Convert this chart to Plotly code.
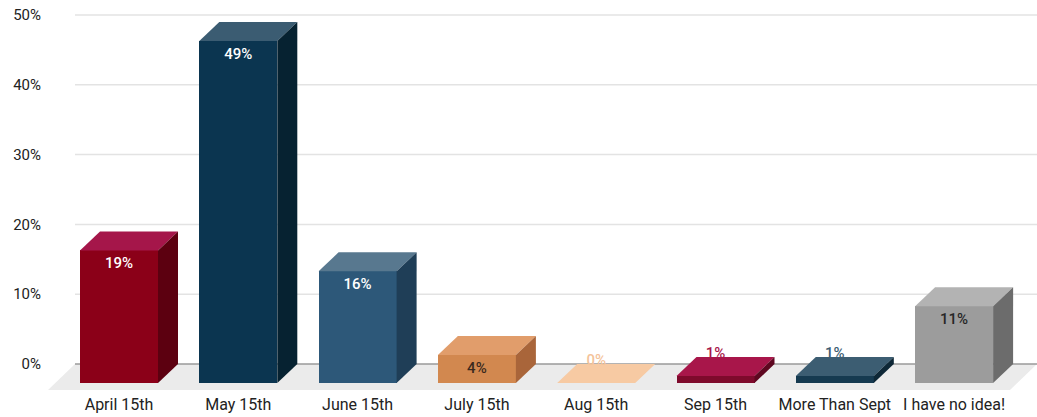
import plotly.graph_objects as go

# Survey answers and the share of respondents picking each one
categories = ["April 15th", "May 15th", "June 15th", "July 15th",
              "Aug 15th", "Sep 15th", "More Than Sept", "I have no idea!"]
values = [19, 49, 16, 4, 0, 1, 1, 11]
value_labels = ["19%", "49%", "16%", "4%", "0%", "1%", "1%", "11%"]
y_ticks = [0, 10, 20, 30, 40, 50]
y_tick_labels = ["0%", "10%", "20%", "30%", "40%", "50%"]

# Face colours for each box: front, top, side
front_colors = ["#8b0018", "#0b3550", "#2d5879", "#d2884f",
                "#f4c39a", "#7e0a2c", "#163a50", "#9c9c9c"]
top_colors = ["#a5164a", "#3b5c72", "#58788f", "#e19d6b",
              "#f7caa3", "#a8164a", "#3c5d72", "#b3b3b3"]
side_colors = ["#5c0010", "#062231", "#1f3e57", "#a9653a",
               "#e0ad80", "#5e0720", "#0e2837", "#6c6c6c"]
label_colors = ["#ffffff", "#ffffff", "#ffffff", "#3b2a1e",
                "#f4c39a", "#a8164a", "#3c5d72", "#262626"]

# Page / plot geometry
W, H = 1037, 417
ML, MR, MT, MB = 48, 0, 5, 27
PX_PER_CAT = 119.3
PX_PER_PCT = 6.98
ZERO_PX = 364           # pixel row of the back-plane 0% line
FIRST_CAT_PX = 119      # pixel column of the first category centre

plot_w = W - ML - MR
plot_h = H - MT - MB
x0 = -(FIRST_CAT_PX - ML) / PX_PER_CAT
x1 = x0 + plot_w / PX_PER_CAT
y1 = (ZERO_PX - MT) / PX_PER_PCT
y0 = y1 - plot_h / PX_PER_PCT

# Depth of the pseudo-3D extrusion, converted to data units
DX = 20 / PX_PER_CAT
DY = 19 / PX_PER_PCT
BAR_W = 78 / PX_PER_CAT
HALF = BAR_W / 2
FLOOR_DX = 27 / PX_PER_CAT
FLOOR_DY = 26 / PX_PER_PCT

idx = list(range(len(categories)))
fig = go.Figure()

# Front faces
fig.add_trace(go.Bar(
    x=idx, y=values, base=[-DY] * len(values), width=BAR_W,
    marker=dict(color=front_colors, line=dict(width=0)),
    hoverinfo="skip", showlegend=False,
))

# Top and side faces
for i, v in enumerate(values):
    xl, xr = i - HALF, i + HALF
    fig.add_trace(go.Scatter(
        x=[xl, xr, xr + DX, xl + DX, xl],
        y=[v - DY, v - DY, v, v, v - DY],
        fill="toself", fillcolor=top_colors[i], mode="lines",
        line=dict(width=0, color=top_colors[i]),
        hoverinfo="skip", showlegend=False,
    ))
    if v > 0:
        fig.add_trace(go.Scatter(
            x=[xr, xr + DX, xr + DX, xr, xr],
            y=[-DY, 0, v, v - DY, -DY],
            fill="toself", fillcolor=side_colors[i], mode="lines",
            line=dict(width=0, color=side_colors[i]),
            hoverinfo="skip", showlegend=False,
        ))

# Value labels: inside the front face when it is tall enough, above otherwise
label_y = []
for v in values:
    if v * PX_PER_PCT >= 20:
        label_y.append(v - DY - 14 / PX_PER_PCT)
    else:
        label_y.append(v + 0.4)
fig.add_trace(go.Scatter(
    x=idx, y=label_y, text=value_labels, mode="text",
    textposition="middle center",
    textfont=dict(family="Roboto", size=15, color=label_colors, weight=500),
    hoverinfo="skip", showlegend=False,
))

# Floor slab and back-plane gridlines
shapes = [dict(
    type="path", xref="x", yref="y", layer="below",
    path=(f"M {x0},{-FLOOR_DY} L {x1 - FLOOR_DX},{-FLOOR_DY} "
          f"L {x1},0 L {x0 + FLOOR_DX},0 Z"),
    fillcolor="#ebebeb", line=dict(width=0),
)]
for t in y_ticks:
    shapes.append(dict(
        type="line", xref="x", yref="y", layer="below",
        x0=x0 + FLOOR_DX, x1=x1, y0=t, y1=t,
        line=dict(color="#9a9a9a" if t == 0 else "#e3e3e3", width=1.5),
    ))

fig.update_layout(
    width=W, height=H,
    margin=dict(l=ML, r=MR, t=MT, b=MB),
    paper_bgcolor="white", plot_bgcolor="white",
    font=dict(family="Roboto", size=15, color="#222222"),
    shapes=shapes,
    bargap=0,
    xaxis=dict(
        range=[x0, x1], tickvals=idx, ticktext=categories,
        showgrid=False, zeroline=False, showline=False, ticks="",
        ticklabelstandoff=3,
        tickfont=dict(size=16, color="#222222"), fixedrange=True,
    ),
    yaxis=dict(
        range=[y0, y1], tickvals=y_ticks, ticktext=y_tick_labels,
        showgrid=False, zeroline=False, showline=False, ticks="",
        ticklabelstandoff=6,
        tickfont=dict(size=15, color="#222222"), fixedrange=True,
    ),
)

fig.write_html("out.html")
